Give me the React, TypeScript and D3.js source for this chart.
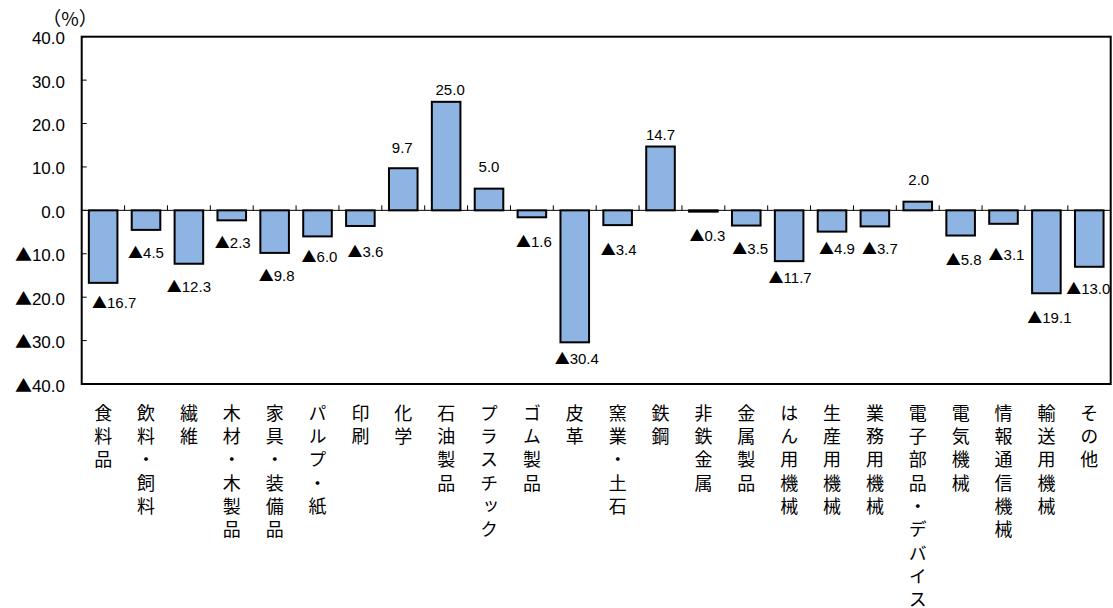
import React from "react";
import * as d3 from "d3";

// Year-on-year change by industry (%)
const categories: string[] = [
  "食料品", "飲料・飼料", "繊維", "木材・木製品", "家具・装備品", "パルプ・紙", "印刷",
  "化学", "石油製品", "プラスチック", "ゴム製品", "皮革", "窯業・土石", "鉄鋼",
  "非鉄金属", "金属製品", "はん用機械", "生産用機械", "業務用機械", "電子部品・デバイス",
  "電気機械", "情報通信機械", "輸送用機械", "その他",
];

const values: number[] = [
  -16.7, -4.5, -12.3, -2.3, -9.8, -6.0, -3.6,
  9.7, 25.0, 5.0, -1.6, -30.4, -3.4, 14.7,
  -0.3, -3.5, -11.7, -4.9, -3.7, 2.0,
  -5.8, -3.1, -19.1, -13.0,
];

const yTicks: number[] = [40, 30, 20, 10, 0, -10, -20, -30, -40];

// Small hand adjustments of the value labels [dx, dy] in px
const labelNudge: [number, number][] = [
  [11, -2], [0, 1], [0, 1], [1, 0], [2, 1], [2, -2], [5, 4],
  [-1, -4], [4, 5], [0, -5], [2, 2], [2, -6], [1, 2], [0, 5],
  [4, 2], [4, 1], [1, -6], [5, -5], [5, 0], [1, -5],
  [3, 2], [3, 9], [3, 2], [-1, 0],
];

const W = 1113;
const H = 608;
const plot = { left: 81.7, right: 1110.7, top: 36.7, bottom: 384 };

const numFont = "'Liberation Sans', Arial, sans-serif";
const cjkFont = "'Noto Sans CJK JP', sans-serif";

// Negative numbers are written with a leading ▲ instead of a minus sign
function NumLabel(props: { v: number; x: number; y: number; anchor: string; size: number }) {
  const { v, x, y, anchor, size } = props;
  const body = Math.abs(v).toFixed(1);
  return (
    <text x={x} y={y} textAnchor={anchor} fontFamily={numFont} fontSize={size} fill="#000">
      {v < 0 && (
        <tspan fontFamily={cjkFont} fontSize={size}>
          ▲
        </tspan>
      )}
      {body}
    </text>
  );
}

export default function App() {
  const x = d3
    .scaleBand<string>()
    .domain(categories)
    .range([plot.left, plot.right])
    .paddingInner(1 / 3)
    .paddingOuter(1 / 6);
  const step = x.step();
  const y = d3.scaleLinear().domain([-40, 40]).range([plot.bottom, plot.top]);
  const y0 = y(0);

  return (
    <svg
      width={W}
      height={H}
      style={{ position: "absolute", left: 0, top: 0, background: "#fff" }}
    >
      {/* bars */}
      {categories.map((c, i) => {
        const v = values[i];
        const top = Math.min(y(v), y0);
        const h = Math.abs(y(v) - y0);
        return (
          <rect
            key={c}
            x={x(c)!}
            y={top}
            width={x.bandwidth()}
            height={h}
            fill="#8DB4E2"
            stroke="#000"
            strokeWidth={2}
          />
        );
      })}

      {/* zero line and category ticks */}
      <line x1={plot.left} x2={plot.right} y1={y0} y2={y0} stroke="#000" strokeWidth={1} />
      {categories.slice(1).map((c, i) => {
        const xt = plot.left + step * (i + 1);
        return <line key={"ct" + i} x1={xt} x2={xt} y1={y0} y2={y0 - 5} stroke="#000" strokeWidth={1} />;
      })}

      {/* y ticks inward */}
      {yTicks.map((t) => (
        <line key={"yt" + t} x1={plot.left} x2={plot.left + 5} y1={y(t)} y2={y(t)} stroke="#000" strokeWidth={1} />
      ))}

      {/* frame */}
      <rect
        x={plot.left}
        y={plot.top}
        width={plot.right - plot.left}
        height={plot.bottom - plot.top}
        fill="none"
        stroke="#000"
        strokeWidth={2}
      />

      {/* y labels */}
      {yTicks.map((t) => (
        <NumLabel key={"yl" + t} v={t} x={65} y={y(t) + 7.5} anchor="end" size={17} />
      ))}
      <text x={70} y={26} textAnchor="middle" fontFamily={cjkFont} fontSize={19} fill="#000">
        （%）
      </text>

      {/* value labels */}
      {categories.map((c, i) => {
        const v = values[i];
        const cx = x(c)! + x.bandwidth() / 2;
        const [dx, dy] = labelNudge[i];
        const cy = v >= 0 ? y(v) - 17 : y(v) + 22;
        return <NumLabel key={"vl" + c} v={v} x={cx + dx} y={cy + dy + 5.5} anchor="middle" size={15} />;
      })}

      {/* vertical category labels */}
      {categories.map((c) => {
        const cx = x(c)! + x.bandwidth() / 2;
        return (
          <text
            key={"cl" + c}
            x={cx}
            y={404}
            writingMode="vertical-rl"
            textAnchor="start"
            fontFamily={cjkFont}
            fontSize={18}
            letterSpacing={5.3}
            fill="#000"
            style={{ writingMode: "vertical-rl" } as React.CSSProperties}
          >
            {c}
          </text>
        );
      })}
    </svg>
  );
}
